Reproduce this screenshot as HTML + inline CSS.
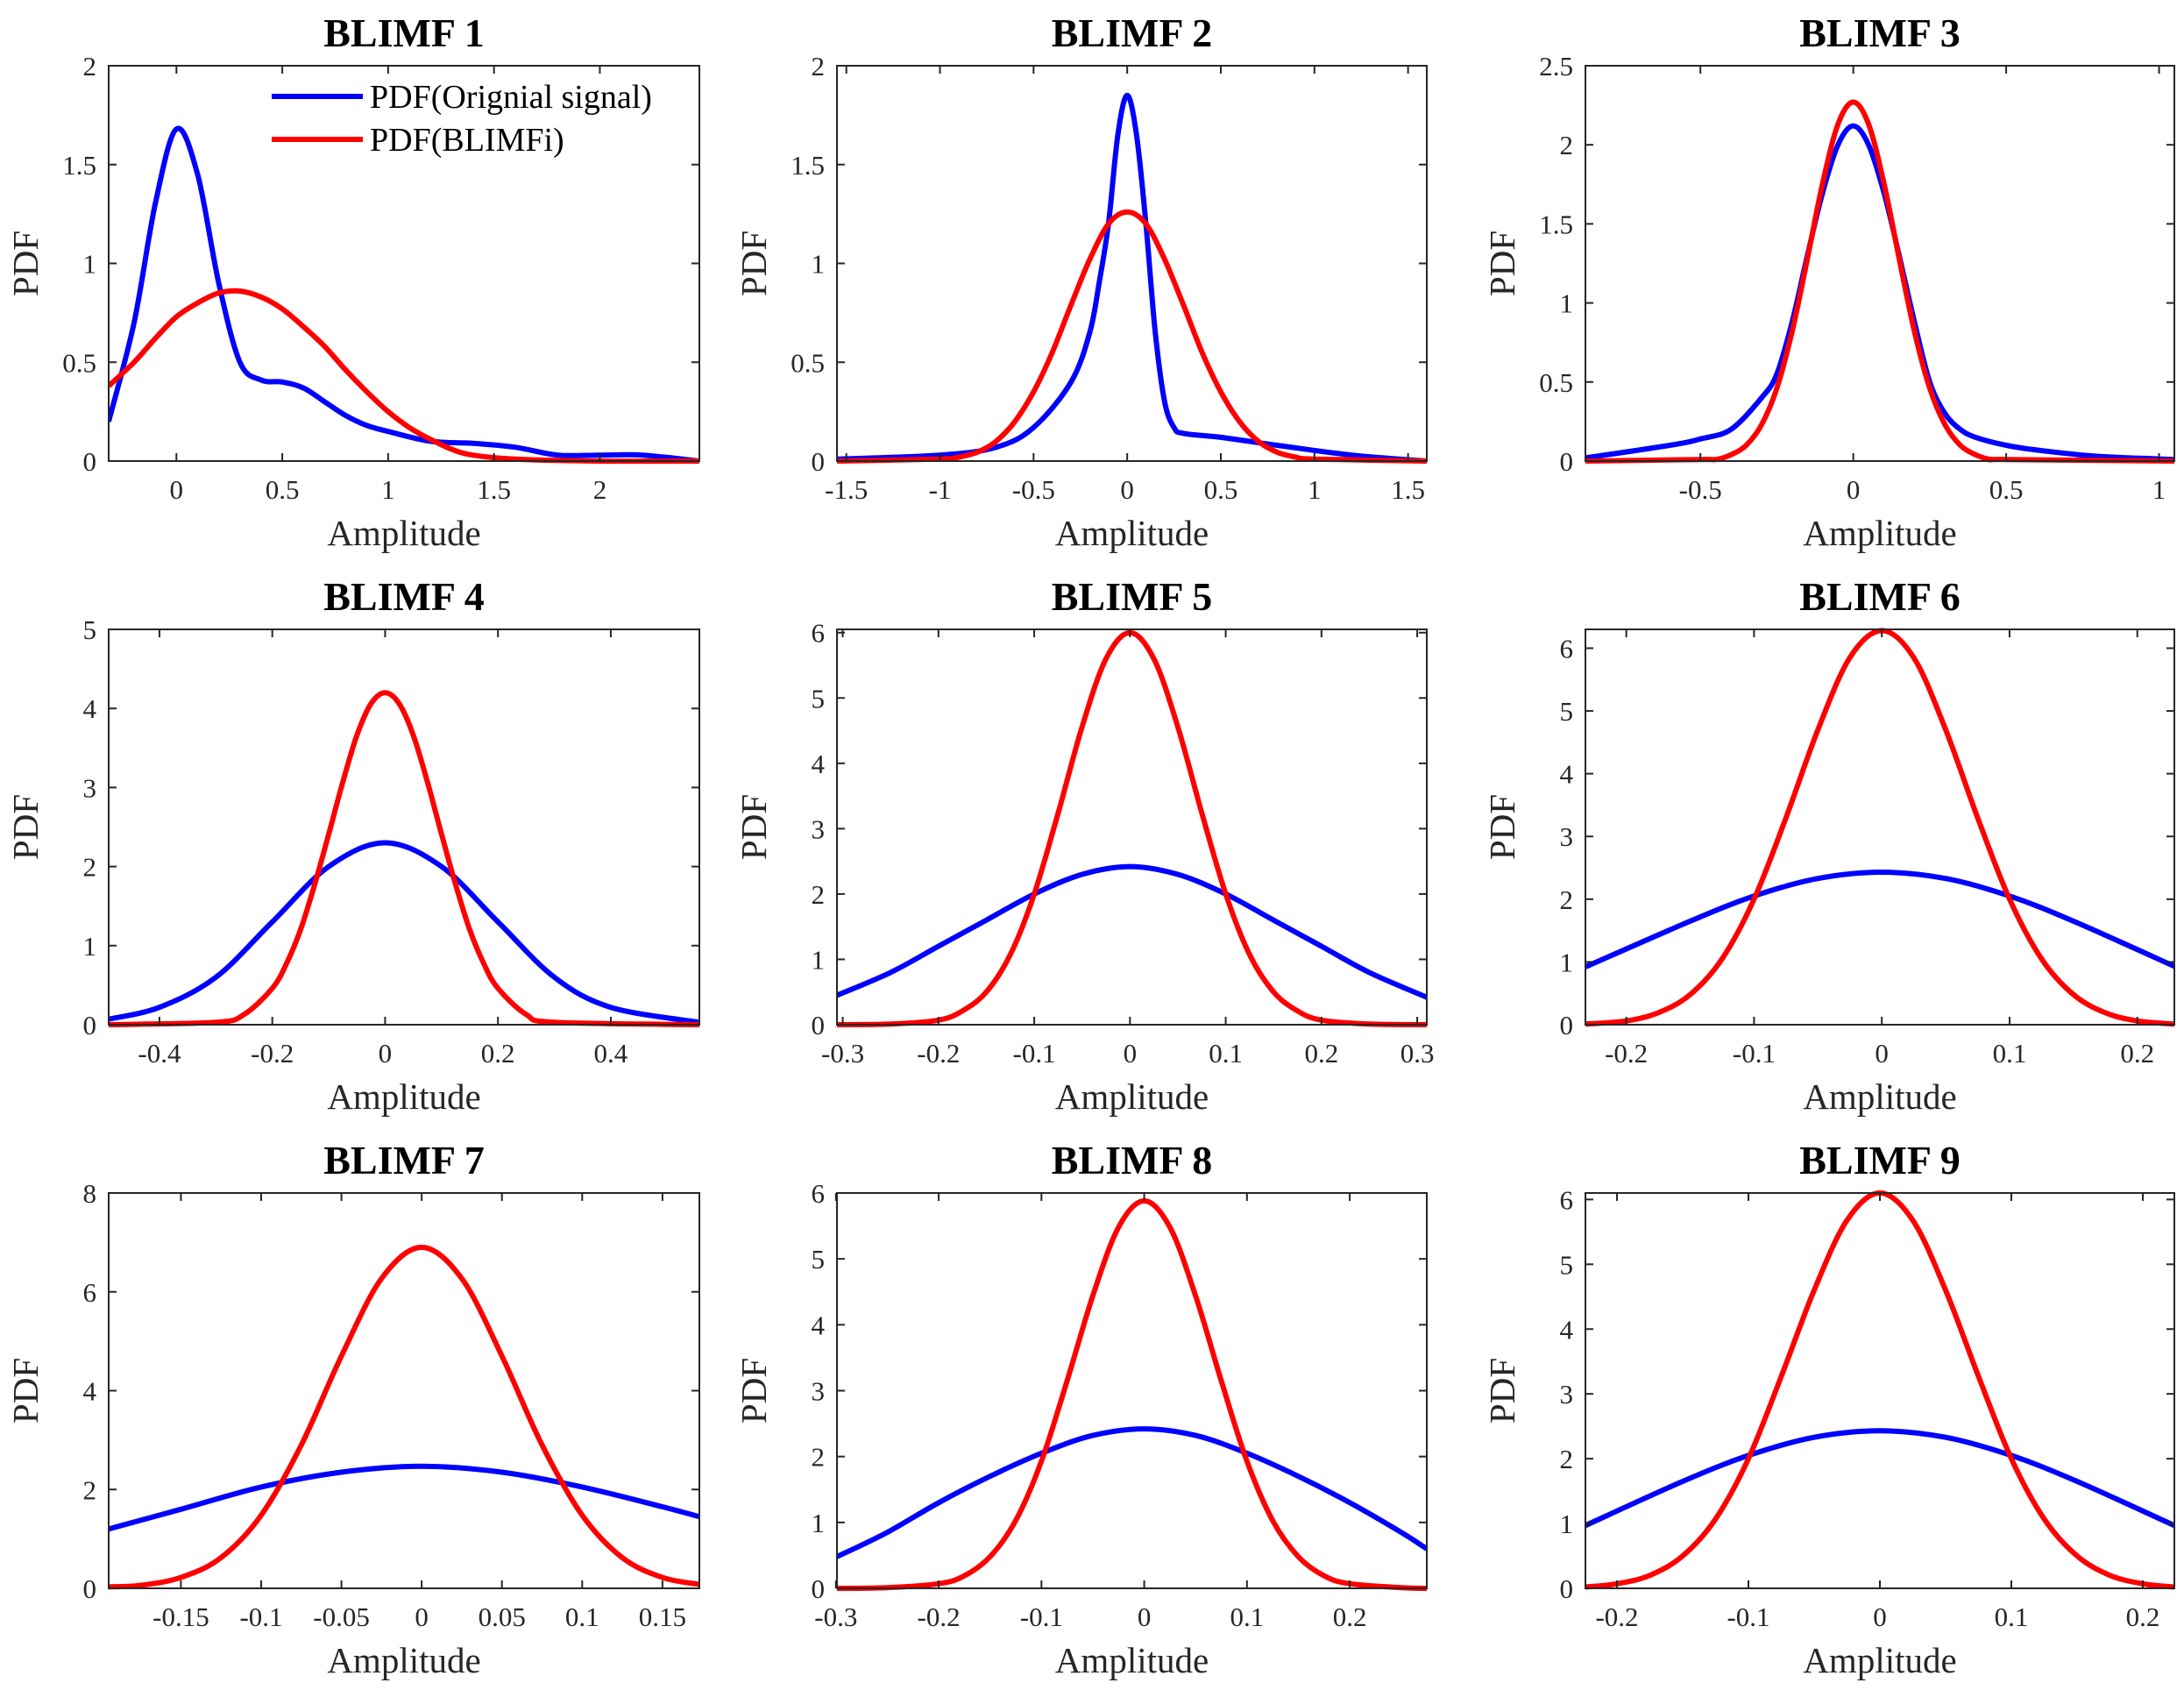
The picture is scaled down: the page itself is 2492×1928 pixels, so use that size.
<!DOCTYPE html>
<html><head><meta charset="utf-8"><style>
html,body{margin:0;padding:0;background:#fff}
svg{display:block}
text{font-family:"Liberation Serif",serif}
</style></head><body>
<svg id="fig" width="2492" height="1928" viewBox="0 0 2492 1928" xmlns="http://www.w3.org/2000/svg"></svg>
<script>
// ---- data ----
const titles = ["BLIMF 1","BLIMF 2","BLIMF 3","BLIMF 4","BLIMF 5","BLIMF 6","BLIMF 7","BLIMF 8","BLIMF 9"];
const xRanges = [[-0.32,2.47],[-1.55,1.6],[-0.876,1.05],[-0.49,0.557],[-0.306,0.31],[-0.232,0.229],[-0.195,0.173],[-0.299,0.275],[-0.224,0.224]];
const yRanges = [[0,2],[0,2],[0,2.5],[0,5],[0,6.05],[0,6.3],[0,8],[0,6],[0,6.1]];
const xTickVals = [[0,0.5,1,1.5,2],[-1.5,-1,-0.5,0,0.5,1,1.5],[-0.5,0,0.5,1],[-0.4,-0.2,0,0.2,0.4],[-0.3,-0.2,-0.1,0,0.1,0.2,0.3],[-0.2,-0.1,0,0.1,0.2],[-0.15,-0.1,-0.05,0,0.05,0.1,0.15],[-0.3,-0.2,-0.1,0,0.1,0.2],[-0.2,-0.1,0,0.1,0.2]];
const yTickVals = [[0,0.5,1,1.5,2],[0,0.5,1,1.5,2],[0,0.5,1,1.5,2,2.5],[0,1,2,3,4,5],[0,1,2,3,4,5,6],[0,1,2,3,4,5,6],[0,2,4,6,8],[0,1,2,3,4,5,6],[0,1,2,3,4,5,6]];
const blueX = [
 [-0.32,-0.2,-0.1,0,0.1,0.2,0.3,0.4,0.5,0.6,0.7,0.8,0.9,1.0,1.2,1.4,1.6,1.8,2.0,2.2,2.47],
 [-1.55,-1.0,-0.7,-0.5,-0.3,-0.2,-0.15,-0.1,-0.05,0,0.05,0.1,0.15,0.2,0.25,0.3,0.5,0.8,1.2,1.6],
 [-0.876,-0.6,-0.5,-0.4,-0.3,-0.25,-0.2,-0.15,-0.1,-0.05,0,0.05,0.1,0.15,0.2,0.25,0.3,0.35,0.4,0.5,0.6,0.8,1.05],
 [-0.49,-0.4,-0.3,-0.2,-0.1,0,0.1,0.2,0.3,0.4,0.557],
 [-0.306,-0.25,-0.2,-0.15,-0.1,-0.05,0,0.05,0.1,0.15,0.2,0.25,0.31],
 [-0.232,-0.15,-0.1,-0.05,0,0.05,0.1,0.15,0.229],
 [-0.195,-0.15,-0.1,-0.05,0,0.05,0.1,0.15,0.173],
 [-0.299,-0.25,-0.2,-0.15,-0.1,-0.05,0,0.05,0.1,0.15,0.2,0.25,0.275],
 [-0.224,-0.15,-0.1,-0.05,0,0.05,0.1,0.15,0.224]];
const blueY = [
 [0.2,0.7,1.3,1.68,1.45,0.9,0.5,0.41,0.4,0.37,0.3,0.23,0.18,0.15,0.1,0.09,0.07,0.03,0.03,0.03,0.0],
 [0.01,0.03,0.07,0.17,0.4,0.65,0.9,1.2,1.65,1.85,1.65,1.2,0.65,0.3,0.17,0.14,0.12,0.08,0.03,0.0],
 [0.02,0.1,0.14,0.2,0.4,0.55,0.88,1.3,1.7,2.0,2.12,2.0,1.7,1.3,0.88,0.5,0.3,0.2,0.15,0.1,0.07,0.03,0.01],
 [0.07,0.22,0.6,1.3,2.0,2.3,2.0,1.3,0.6,0.22,0.03],
 [0.45,0.8,1.2,1.6,2.0,2.3,2.42,2.3,2.0,1.6,1.2,0.8,0.42],
 [0.92,1.65,2.05,2.33,2.43,2.33,2.05,1.65,0.93],
 [1.2,1.6,2.05,2.35,2.47,2.35,2.05,1.65,1.45],
 [0.48,0.85,1.3,1.7,2.05,2.32,2.42,2.32,2.05,1.7,1.3,0.85,0.6],
 [0.97,1.65,2.05,2.33,2.43,2.33,2.05,1.65,0.97]];
const redX = [
 [-0.32,-0.2,-0.1,0,0.1,0.2,0.3,0.4,0.5,0.6,0.7,0.8,0.9,1.0,1.1,1.2,1.3,1.4,1.6,2.0,2.47],
 [-1.55,-1.0,-0.9,-0.8,-0.7,-0.6,-0.5,-0.4,-0.3,-0.2,-0.1,0,0.1,0.2,0.3,0.4,0.5,0.6,0.7,0.8,0.9,1.0,1.6],
 [-0.876,-0.5,-0.45,-0.4,-0.35,-0.3,-0.25,-0.2,-0.15,-0.1,-0.05,0,0.05,0.1,0.15,0.2,0.25,0.3,0.35,0.4,0.45,0.5,1.05],
 [-0.49,-0.3,-0.25,-0.2,-0.175,-0.15,-0.125,-0.1,-0.075,-0.05,-0.025,0,0.025,0.05,0.075,0.1,0.125,0.15,0.175,0.2,0.25,0.3,0.557],
 [-0.306,-0.25,-0.2,-0.175,-0.15,-0.125,-0.1,-0.075,-0.05,-0.025,0,0.025,0.05,0.075,0.1,0.125,0.15,0.175,0.2,0.25,0.31],
 [-0.232,-0.2,-0.175,-0.15,-0.125,-0.1,-0.075,-0.05,-0.025,0,0.025,0.05,0.075,0.1,0.125,0.15,0.175,0.2,0.229],
 [-0.195,-0.175,-0.15,-0.125,-0.1,-0.075,-0.05,-0.025,0,0.025,0.05,0.075,0.1,0.125,0.15,0.173],
 [-0.299,-0.25,-0.2,-0.175,-0.15,-0.125,-0.1,-0.075,-0.05,-0.025,0,0.025,0.05,0.075,0.1,0.125,0.15,0.175,0.2,0.25,0.275],
 [-0.224,-0.2,-0.175,-0.15,-0.125,-0.1,-0.075,-0.05,-0.025,0,0.025,0.05,0.075,0.1,0.125,0.15,0.175,0.2,0.224]];
const redY = [
 [0.38,0.5,0.62,0.73,0.8,0.85,0.86,0.83,0.77,0.68,0.58,0.46,0.35,0.25,0.17,0.11,0.06,0.03,0.01,0,0],
 [0,0.01,0.02,0.045,0.1,0.2,0.35,0.55,0.79,1.02,1.2,1.26,1.2,1.02,0.79,0.55,0.35,0.2,0.1,0.045,0.02,0.01,0],
 [0,0.01,0.01,0.04,0.1,0.23,0.46,0.82,1.28,1.76,2.13,2.27,2.13,1.76,1.28,0.82,0.46,0.23,0.1,0.04,0.01,0.01,0],
 [0,0.03,0.13,0.46,0.77,1.2,1.77,2.41,3.07,3.66,4.06,4.2,4.06,3.66,3.07,2.41,1.77,1.2,0.77,0.46,0.13,0.03,0],
 [0,0.01,0.07,0.21,0.5,1.07,2.0,3.24,4.56,5.6,6.0,5.6,4.56,3.24,2.0,1.07,0.5,0.21,0.07,0.01,0],
 [0.01,0.06,0.19,0.48,1.05,2.0,3.3,4.7,5.85,6.28,5.85,4.7,3.3,2.0,1.05,0.48,0.19,0.06,0.01],
 [0.03,0.06,0.22,0.62,1.48,2.9,4.7,6.27,6.9,6.27,4.7,2.9,1.48,0.62,0.22,0.08],
 [0,0.01,0.07,0.19,0.48,1.03,1.93,3.15,4.44,5.48,5.88,5.48,4.44,3.15,1.93,1.03,0.48,0.19,0.07,0.01,0],
 [0.02,0.07,0.2,0.5,1.07,2.0,3.27,4.6,5.68,6.1,5.68,4.6,3.27,2.0,1.07,0.5,0.2,0.07,0.02]];
// ---- layout ----
const colL=[124,955,1809], colR=[798,1628,2481], rowT=[75,718,1361], plotH=451;
const NS="http://www.w3.org/2000/svg";
const svg=document.getElementById('fig');
function mk(tag,attrs,parent){const e=document.createElementNS(NS,tag);for(const k in attrs)e.setAttribute(k,attrs[k]);(parent||svg).appendChild(e);return e;}
function smooth(pts){let d=`M${pts[0][0].toFixed(1)},${pts[0][1].toFixed(1)}`;
 for(let i=0;i<pts.length-1;i++){const p0=pts[Math.max(0,i-1)],p1=pts[i],p2=pts[i+1],p3=pts[Math.min(pts.length-1,i+2)];
  const c1=[p1[0]+(p2[0]-p0[0])/6,p1[1]+(p2[1]-p0[1])/6],c2=[p2[0]-(p3[0]-p1[0])/6,p2[1]-(p3[1]-p1[1])/6];
  d+=`C${c1[0].toFixed(1)},${c1[1].toFixed(1)} ${c2[0].toFixed(1)},${c2[1].toFixed(1)} ${p2[0].toFixed(1)},${p2[1].toFixed(1)}`;}
 return d;}
function fmt(v){return (Math.round(v*1000)/1000).toString();}
for(let p=0;p<9;p++){
 const L=colL[p%3],R=colR[p%3],T=rowT[Math.floor(p/3)],B=T+plotH;
 const [x0,x1]=xRanges[p],[y0,y1]=yRanges[p];
 const sx=v=>L+(v-x0)/(x1-x0)*(R-L), sy=v=>B-(v-y0)/(y1-y0)*(B-T);
 const g=mk('g',{});
 
 
 const clipId='clip'+p;
 const cp=mk('clipPath',{id:clipId},g);mk('rect',{x:L,y:T-4,width:R-L,height:B-T+8},cp);
 const t=mk('text',{x:(L+R)/2,y:T-22,'text-anchor':'middle','font-size':46,'font-weight':'bold',fill:'#000'},g);
 t.textContent=titles[p];
 
 
 const cg=mk('g',{'clip-path':`url(#${clipId})`},g);
 const bp=mk('path',{d:smooth(blueX[p].map((v,i)=>[sx(v),sy(blueY[p][i])])),fill:'none',stroke:'#0000ff','stroke-width':6,'stroke-linejoin':'round'},cg);
 
 
 const rp=mk('path',{d:smooth(redX[p].map((v,i)=>[sx(v),sy(redY[p][i])])),fill:'none',stroke:'#ff0000','stroke-width':6,'stroke-linejoin':'round'},cg);
 
 
 const box=mk('rect',{x:L,y:T,width:R-L,height:B-T,fill:'none',stroke:'#262626','stroke-width':2},g);
 
 
 xTickVals[p].forEach(v=>{const x=sx(v);
  mk('line',{x1:x,y1:B,x2:x,y2:B-9,stroke:'#262626','stroke-width':2},g);
  mk('line',{x1:x,y1:T,x2:x,y2:T+9,stroke:'#262626','stroke-width':2},g);
  const tl=mk('text',{x:x,y:B+43,'text-anchor':'middle','font-size':31,fill:'#262626'},g);
  tl.textContent=fmt(v);
  
  });
 yTickVals[p].forEach(v=>{const y=sy(v);
  mk('line',{x1:L,y1:y,x2:L+9,y2:y,stroke:'#262626','stroke-width':2},g);
  mk('line',{x1:R,y1:y,x2:R-9,y2:y,stroke:'#262626','stroke-width':2},g);
  const tl=mk('text',{x:L-14,y:y+11,'text-anchor':'end','font-size':31,fill:'#262626'},g);
  tl.textContent=fmt(v);
  
  });
 const xl=mk('text',{x:(L+R)/2,y:B+96,'text-anchor':'middle','font-size':41,fill:'#262626'},g);
 xl.textContent='Amplitude';
 
 
 const yl=mk('text',{x:0,y:0,'text-anchor':'middle','font-size':41,fill:'#262626',transform:`translate(${L-81},${(T+B)/2}) rotate(-90)`},g);
 yl.textContent='PDF';
 
 
 if(p===0){
  const lg=mk('g',{},g);
  
  
  mk('line',{x1:310,y1:110,x2:414,y2:110,stroke:'#0000ff','stroke-width':6},lg);
  mk('line',{x1:310,y1:159,x2:414,y2:159,stroke:'#ff0000','stroke-width':6},lg);
  const l1=mk('text',{x:422,y:123,'font-size':38,fill:'#000'},lg);l1.textContent='PDF(Orignial signal)';
  
  
  const l2=mk('text',{x:422,y:172,'font-size':38,fill:'#000'},lg);l2.textContent='PDF(BLIMFi)';
  
  
 }
}
</script>
</body></html>
